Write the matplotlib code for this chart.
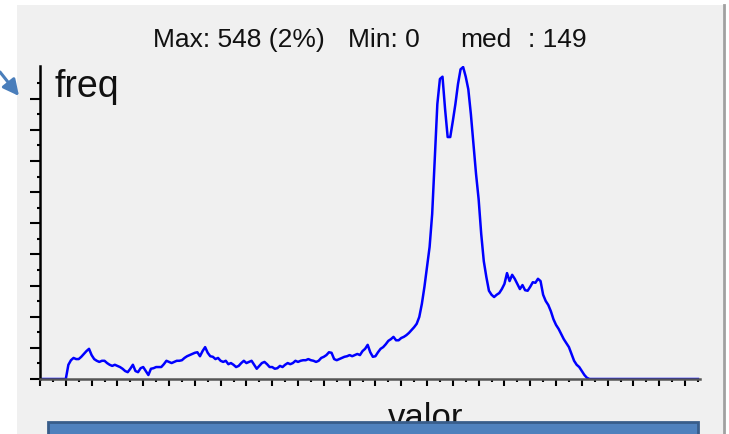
import numpy as np
import matplotlib
matplotlib.use("Agg")
import matplotlib.pyplot as plt
from matplotlib import font_manager
from matplotlib.patches import Rectangle, FancyArrowPatch

# histogram counts per grey value (0..255)
freq = [
    0, 0, 0, 0, 0, 0, 0, 0, 0, 0, 0, 25, 33, 37, 35, 35,
    39, 44, 49, 53, 42, 35, 32, 30, 32, 32, 28, 25, 23, 25, 23, 21,
    18, 14, 12, 18, 25, 14, 12, 19, 21, 14, 7, 18, 19, 21, 21, 21,
    26, 32, 30, 28, 30, 32, 32, 33, 37, 40, 42, 44, 46, 47, 40, 49,
    56, 46, 40, 39, 35, 37, 32, 30, 32, 26, 28, 25, 21, 23, 28, 32,
    28, 30, 32, 25, 18, 23, 28, 30, 26, 21, 21, 18, 19, 23, 21, 25,
    28, 26, 28, 32, 30, 32, 33, 33, 35, 33, 32, 30, 32, 37, 39, 42,
    47, 46, 35, 33, 35, 37, 39, 40, 42, 40, 42, 44, 42, 49, 53, 60,
    47, 39, 40, 47, 53, 56, 61, 67, 70, 74, 68, 68, 72, 74, 77, 81,
    86, 91, 97, 109, 132, 162, 197, 232, 290, 386, 483, 527, 531, 474, 425, 425,
    453, 483, 518, 544, 548, 531, 509, 465, 413, 360, 316, 255, 207, 179, 155, 148,
    144, 148, 151, 158, 167, 186, 172, 183, 176, 167, 158, 165, 156, 155, 162, 170,
    169, 176, 172, 148, 137, 130, 119, 105, 95, 88, 79, 70, 63, 56, 44, 32,
    25, 21, 14, 7, 2, 0, 0, 0, 0, 0, 0, 0, 0, 0, 0, 0,
    0, 0, 0, 0, 0, 0, 0, 0, 0, 0, 0, 0, 0, 0, 0, 0,
    0, 0, 0, 0, 0, 0, 0, 0, 0, 0, 0, 0, 0, 0, 0, 0,
]
valor = np.arange(len(freq))

max_txt = "Max: 548 (2%)"
min_txt = "Min: 0"
med_txt = "med"
med_val = ": 149"

installed = {f.name for f in font_manager.fontManager.ttflist}
main_font = "Liberation Sans" if "Liberation Sans" in installed else "DejaVu Sans"
narrow_font = "Liberation Sans Narrow" if "Liberation Sans Narrow" in installed else main_font

W, H = 729, 435
fig = plt.figure(figsize=(W / 100, H / 100), dpi=100)
fig.patch.set_facecolor("white")

# overlay in pixel coordinates (origin top-left) for the frame, text and arrow
bg = fig.add_axes([0, 0, 1, 1])
bg.set_xlim(0, W)
bg.set_ylim(H, 0)
bg.axis("off")
bg.add_patch(Rectangle((17, 6), 706, 440, facecolor="#f0f0f0", edgecolor="none"))
bg.plot([724, 724], [6, 435], color="#a0a0a0", lw=2)

txt = dict(fontsize=19, family=main_font, color="#111111", va="baseline")
bg.text(153, 47, max_txt, **txt)
bg.text(348, 47, min_txt, **txt)
bg.text(460, 47, med_txt, **txt)
bg.text(528, 47, med_val, **txt)
bg.text(55, 97, "freq", fontsize=27, family=narrow_font, color="#111111", va="baseline")
bg.text(388, 428, "valor", fontsize=25, family=main_font, color="#111111", va="baseline")

bg.add_patch(FancyArrowPatch((0, 73), (19, 97), arrowstyle="-|>", mutation_scale=24,
                             color="#4a7ebb", lw=2.2, shrinkA=0, shrinkB=0))

# histogram axes
left, right, base, top = 40, 700, 380, 67
ax = fig.add_axes([left / W, (H - base) / H, (right - left) / W, (base - top) / H])
ax.patch.set_alpha(0)
ax.plot(valor, freq, color="#0000ff", lw=1.8)
ax.set_xlim(0, 255.8)
ax.set_ylim(0, 549.8)

for s in ["top", "right"]:
    ax.spines[s].set_visible(False)
ax.spines["left"].set_linewidth(1.8)
ax.spines["left"].set_color("black")
ax.spines["bottom"].set_linewidth(1.8)
ax.spines["bottom"].set_color("#555555")

ystep = 54.7
ax.set_yticks(np.arange(10) * ystep)
ax.set_yticks(np.arange(10) * ystep + ystep / 2, minor=True)
ax.set_xticks(np.arange(0, 256, 10))
ax.set_xticks(np.arange(5, 256, 10), minor=True)
ax.tick_params(axis="y", which="major", direction="out", length=7, width=1.5, color="black")
ax.tick_params(axis="y", which="minor", direction="out", length=2.5, width=1.5, color="black")
ax.tick_params(axis="x", which="major", direction="out", length=5, width=1.5, color="black")
ax.tick_params(axis="x", which="minor", direction="out", length=2.5, width=1.5, color="black")
ax.set_xticklabels([])
ax.set_yticklabels([])

# blue box covering the bottom
bg.add_patch(Rectangle((48, 423), 650, 20, facecolor="#4f81bd", edgecolor="#385d8a", lw=2,
                       zorder=10))

fig.savefig("out.png", dpi=100)
